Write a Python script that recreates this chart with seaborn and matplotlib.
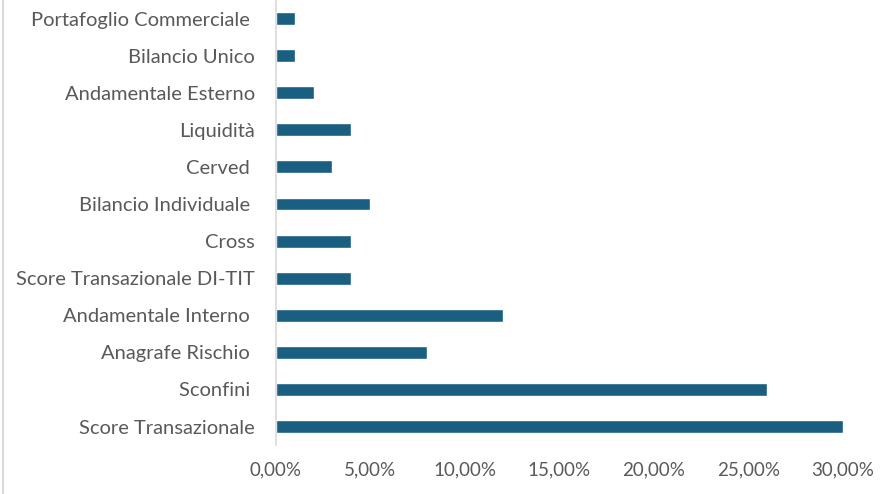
import matplotlib
matplotlib.use("Agg")
import matplotlib.pyplot as plt
import matplotlib.ticker as mticker
from matplotlib.lines import Line2D
import seaborn as sns
import pandas as pd

categories = [
    "Portafoglio Commerciale ",
    "Bilancio Unico",
    "Andamentale Esterno",
    "Liquidità",
    "Cerved ",
    "Bilancio Individuale ",
    "Cross",
    "Score Transazionale DI-TIT",
    "Andamentale Interno ",
    "Anagrafe Rischio ",
    "Sconfini ",
    "Score Transazionale",
]
values = [0.01, 0.01, 0.02, 0.04, 0.03, 0.05, 0.04, 0.04, 0.12, 0.08, 0.26, 0.30]
xticks = [0.0, 0.05, 0.10, 0.15, 0.20, 0.25, 0.30]

df = pd.DataFrame({"cat": categories, "val": values})

sns.set_theme(style="white")
plt.rcParams["font.family"] = ["Lato", "DejaVu Sans"]

fig = plt.figure(figsize=(8.81, 4.94), dpi=100)
ax = fig.add_axes([0.313, 0.099, 0.644, 0.901])

sns.barplot(data=df, x="val", y="cat", orient="h", color="#1A5F82",
            saturation=1, width=0.35, ax=ax, order=categories)

ax.set_xlim(0, 0.30)
ax.set_ylim(11.5, -0.5)
ax.set_xticks(xticks)
ax.xaxis.set_major_formatter(mticker.FuncFormatter(
    lambda v, p: f"{v*100:.2f}%".replace(".", ",")))
ax.set_xlabel("")
ax.set_ylabel("")
for s in ["top", "right", "bottom"]:
    ax.spines[s].set_visible(False)
ax.spines["left"].set_color("#D9D9D9")
ax.spines["left"].set_linewidth(1.2)
ax.tick_params(axis="x", length=0, labelsize=13.5, colors="#595959", pad=12)
ax.tick_params(axis="y", length=0, labelsize=14.5, colors="#595959", pad=15)

fig.add_artist(Line2D([0.003, 0.003], [0, 1], transform=fig.transFigure,
                      color="#D9D9D9", linewidth=1.5))

fig.savefig("out.png", dpi=100)
